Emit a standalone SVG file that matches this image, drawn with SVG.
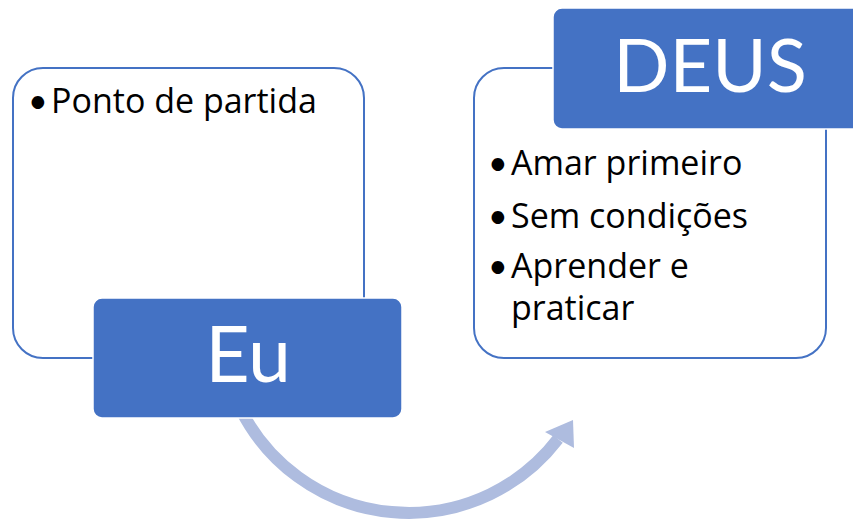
<svg xmlns="http://www.w3.org/2000/svg" width="853" height="520" viewBox="0 0 853 520">
<style>
.frame{fill:#fff;stroke:#4472C4;stroke-width:2}
.head{fill:#4472C4;stroke:#fff;stroke-width:1.5}
.bul{font-family:"Open Sans",Lato,sans-serif;font-size:34px;fill:#000}
.dot{font-family:Lato,"Open Sans",sans-serif;font-size:34px;fill:#000}
.title{font-family:Lato,"Open Sans",sans-serif;fill:#fff;text-anchor:middle}
</style>
<rect width="853" height="520" fill="#fff"/>
<g id="connectors">
<path d="M 241 410 A 188 188 0 0 0 558 439" fill="none" stroke="#AEBCDF" stroke-width="12"/>
<polygon points="573,420 545,432 574,448" fill="#AEBCDF"/>
</g>
<g id="node-eu">
<rect class="frame" x="13" y="68" width="351" height="290" rx="30"/>
<text class="dot" x="28" y="113">•</text>
<text class="bul" x="51" y="113">Ponto de partida</text>
<rect class="head" x="93" y="298" width="309" height="120" rx="9"/>
<text class="title" x="248" y="382" font-size="77">Eu</text>
</g>
<g id="node-deus">
<rect class="frame" x="474" y="68" width="352" height="290" rx="30"/>
<text class="dot" x="488" y="175">•</text>
<text class="bul" x="511" y="175">Amar primeiro</text>
<text class="dot" x="488" y="228">•</text>
<text class="bul" x="511" y="228">Sem condições</text>
<text class="dot" x="488" y="278">•</text>
<text class="bul" x="511" y="278">Aprender e</text>
<text class="bul" x="511" y="320">praticar</text>
<rect class="head" x="553" y="8" width="310" height="121" rx="9"/>
<text class="title" x="710" y="92" font-size="74">DEUS</text>
</g>
</svg>
